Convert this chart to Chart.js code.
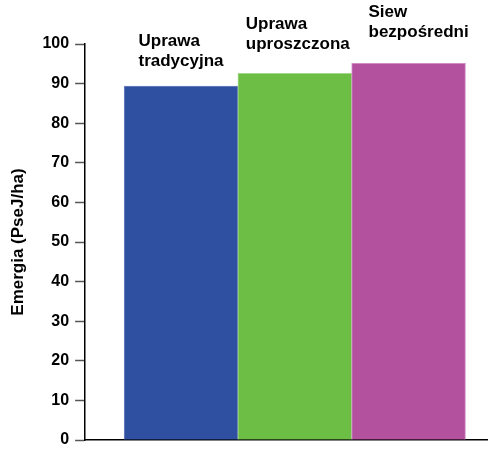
<!DOCTYPE html>
<html>
<head>
<meta charset="utf-8">
<script src="https://cdn.jsdelivr.net/npm/chart.js"></script>
<style>
  html, body { margin: 0; padding: 0; background: #fff; }
  #wrap { width: 488px; height: 451px; }
</style>
</head>
<body>
<div id="wrap"><canvas id="chart" width="488" height="451"></canvas></div>
<script>
// Dane wykresu
const categories = [['Uprawa', 'tradycyjna'], ['Uprawa', 'uproszczona'], ['Siew', 'bezpośredni']];
const positions = [1, 2, 3];
const values = [89.4, 92.6, 95.1];
const yTicks = [0, 10, 20, 30, 40, 50, 60, 70, 80, 90, 100];
const colors = ['#2F4FA0', '#6DBE45', '#B3519E'];
const borders = ['#6F86C4', '#A4D88A', '#D58CC6'];
const yTitle = 'Emergia (PseJ/ha)';

const FONT = '"Liberation Sans", Arial, sans-serif';

// etykiety nad słupkami
const barLabels = {
  id: 'barLabels',
  afterDatasetsDraw(chart) {
    const { ctx } = chart;
    const meta = chart.getDatasetMeta(0);
    const nudgeX = [0, 3, 10]; // drobne przesunięcia
    const nudgeY = [0, 4, 6];
    ctx.save();
    ctx.font = 'bold 17px ' + FONT;
    ctx.fillStyle = '#000';
    ctx.textBaseline = 'alphabetic';
    meta.data.forEach((bar, i) => {
      const lines = categories[i];
      const w = Math.max(...lines.map(l => ctx.measureText(l).width));
      const left = bar.x - w / 2 + nudgeX[i];
      lines.forEach((l, k) => {
        const y = bar.y - 20 - nudgeY[i] - (lines.length - 1 - k) * 20;
        ctx.fillText(l, left, y);
      });
    });
    ctx.restore();
  }
};

new Chart(document.getElementById('chart'), {
  type: 'bar',
  data: {
    datasets: [{
      data: positions.map((p, i) => ({ x: p, y: values[i] })),
      backgroundColor: colors,
      borderColor: borders,
      borderWidth: 1,
      barPercentage: 1,
      categoryPercentage: 1
    }]
  },
  options: {
    responsive: false,
    animation: false,
    layout: { padding: { top: 44, right: 0, bottom: 11, left: 8 } },
    plugins: { legend: { display: false }, tooltip: { enabled: false } },
    scales: {
      x: {
        type: 'linear',
        offset: false,
        bounds: 'data',
        min: 0.157,
        max: 3.698,
        afterBuildTicks(axis) { axis.ticks = positions.map(v => ({ value: v })); },
        ticks: { display: false, padding: 0 },
        grid: { display: true, offset: false, drawOnChartArea: false, drawTicks: false },
        border: { display: true, color: '#000', width: 1.5 }
      },
      y: {
        min: 0,
        max: 100,
        afterBuildTicks(axis) { axis.ticks = yTicks.map(v => ({ value: v })); },
        ticks: {
          color: '#000',
          font: { family: FONT, size: 16, weight: 'bold', lineHeight: 0.6 },
          padding: 6
        },
        grid: { drawOnChartArea: false, tickLength: 10, color: '#555', tickWidth: 1.5 },
        border: { display: true, color: '#000', width: 1.5 },
        title: {
          display: true,
          text: yTitle,
          color: '#000',
          font: { family: FONT, size: 17, weight: 'bold' },
          padding: { top: 0, bottom: 8 }
        }
      }
    }
  },
  plugins: [barLabels]
});
</script>
</body>
</html>
